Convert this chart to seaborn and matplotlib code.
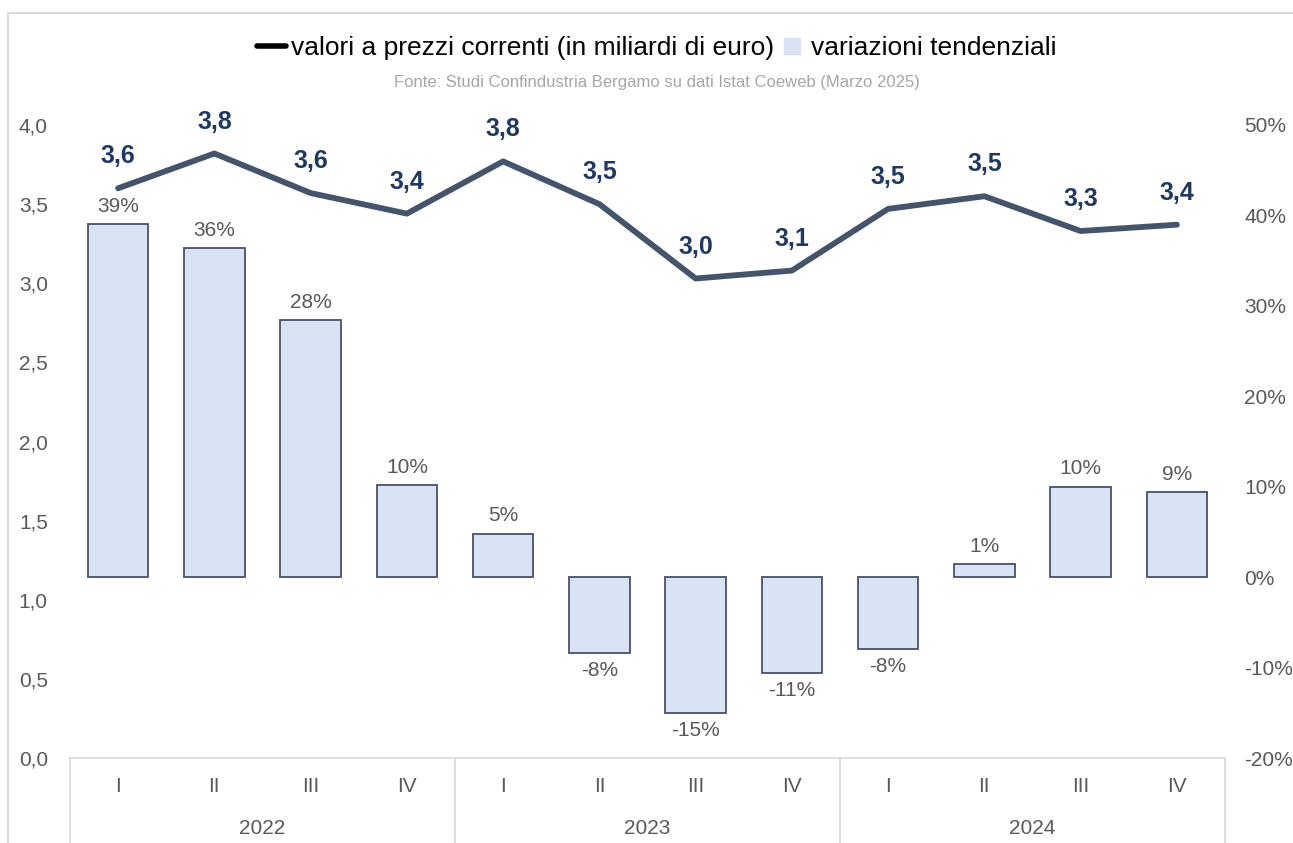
import numpy as np
import pandas as pd
import matplotlib
matplotlib.use("Agg")
import matplotlib.pyplot as plt
from matplotlib.lines import Line2D
from matplotlib.patches import Rectangle
import matplotlib.transforms as mtransforms
import seaborn as sns

# dati (lettura dal grafico)
anni = ["2022", "2023", "2024"]
trimestri = ["I", "II", "III", "IV"]
valori = [3.60, 3.82, 3.57, 3.44, 3.77, 3.50, 3.03, 3.08, 3.47, 3.55, 3.33, 3.37]
variazioni = [39.0, 36.4, 28.4, 10.2, 4.8, -8.4, -15.0, -10.6, -7.9, 1.4, 10.0, 9.4]

periodi = [f"{q} {a}" for a in anni for q in trimestri]
df = pd.DataFrame({"periodo": periodi, "valori": valori, "variazioni": variazioni})

sns.set_theme(style="white")
plt.rcParams["font.family"] = ["Liberation Sans Narrow", "Liberation Sans", "DejaVu Sans"]

grigio = "#595959"
linea = "#44546A"
blu_label = "#203864"
barre = "#DAE3F3"

fig = plt.figure(figsize=(12.93, 8.43), dpi=100)
ax = fig.add_axes([70 / 1293, 1 - 758 / 843, (1225 - 70) / 1293, (758 - 125) / 843])

# barre: variazioni tendenziali (asse destro)
sns.barplot(data=df, x="periodo", y="variazioni", ax=ax, color=barre,
            edgecolor=linea, linewidth=1.3, width=0.63, saturation=1)
ax.set_ylim(-20, 50)
ax.set_xlim(-0.5, len(periodi) - 0.5)
ax.bar_label(ax.containers[0], labels=[f"{round(v)}%" for v in variazioni],
             padding=6, fontsize=15, color=grigio)

ax.set_xticks(range(len(periodi)))
ax.set_xticklabels(trimestri * len(anni))
ax.tick_params(axis="x", length=0, pad=14, labelsize=15, labelcolor=grigio)
ax.set_xlabel("")
ax.set_ylabel("")
for s in ["top", "left", "right"]:
    ax.spines[s].set_visible(False)
ax.spines["bottom"].set_color("#D9D9D9")
ax.spines["bottom"].set_linewidth(1.2)

# separatori e anni
trans = mtransforms.blended_transform_factory(ax.transData, ax.transAxes)
for i in range(len(anni) + 1):
    xs = i * 4 - 0.5
    ax.add_line(Line2D([xs, xs], [0, -0.2], transform=trans, color="#D9D9D9",
                       lw=1.2, clip_on=False))
for i, a in enumerate(anni):
    ax.text(i * 4 + 1.5, -0.112, a, transform=trans, ha="center", va="center",
            fontsize=15, color=grigio)

# linea: valori a prezzi correnti (asse sinistro)
ax2 = ax.twinx()
sns.lineplot(x=np.arange(len(periodi)), y=valori, ax=ax2, color=linea, lw=4.2)
ax2.set_ylim(0, 4.0)
ax2.set_yticks(np.arange(0, 4.01, 0.5))
ax2.set_yticklabels([f"{v:.1f}".replace(".", ",") for v in np.arange(0, 4.01, 0.5)])
for s in ax2.spines.values():
    s.set_visible(False)
for i, v in enumerate(valori):
    ax2.annotate(f"{v:.1f}".replace(".", ","), (i, v), xytext=(0, 23),
                 textcoords="offset points", ha="center", va="center",
                 fontsize=18, fontweight="bold", color=blu_label)

# assi: percentuali a destra, miliardi a sinistra (dopo twinx)
ax.yaxis.tick_right()
ax.set_yticks(np.arange(-20, 51, 10))
ax.set_yticklabels([f"{int(v)}%" for v in np.arange(-20, 51, 10)])
ax.tick_params(axis="y", length=0, pad=14, labelsize=15, labelcolor=grigio)
ax2.yaxis.tick_left()
ax2.tick_params(axis="y", length=0, pad=16, labelsize=15, labelcolor=grigio)

# legenda e fonte
handles = [Line2D([], [], color="black", lw=4),
           Line2D([], [], marker="s", ls="none", color=barre, markersize=11)]
fig.legend(handles, ["valori a prezzi correnti (in miliardi di euro)", "variazioni tendenziali"],
           loc="center", bbox_to_anchor=(657 / 1293, 1 - 48 / 843), ncol=2, frameon=False,
           fontsize=19, handlelength=1.1, handletextpad=0.2, columnspacing=0.1,
           labelcolor="black")
fig.text(657 / 1293, 1 - 82 / 843, "Fonte: Studi Confindustria Bergamo su dati Istat Coeweb (Marzo 2025)",
         ha="center", va="center", fontsize=12, color="#A6A6A6")

fig.add_artist(Rectangle((8 / 1293, -0.1), 1.2, 1.1 - 13 / 843, transform=fig.transFigure,
                         fill=False, edgecolor="#D9D9D9", lw=1.5))

fig.savefig("out.png", dpi=100)
